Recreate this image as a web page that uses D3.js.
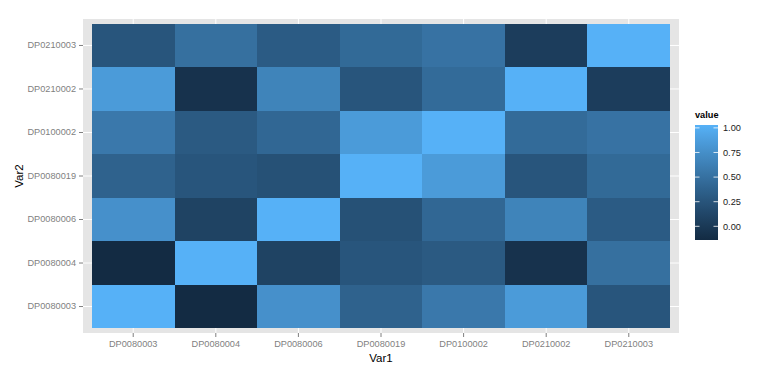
<!DOCTYPE html>
<html>
<head>
<meta charset="utf-8">
<script src="https://cdn.jsdelivr.net/npm/d3@7"></script>
<style>
  body { margin: 0; background: #fff; }
  text { font-family: "Liberation Sans", Arial, sans-serif; }
</style>
</head>
<body>
<div id="chart"></div>
<script>
// variables, same order on both axes
const vars = ["DP0080003", "DP0080004", "DP0080006", "DP0080019", "DP0100002", "DP0210002", "DP0210003"];

// correlation matrix rows (Var2) by columns (Var1)
const rowDP0080003 = [1.00, -0.11, 0.75, 0.38, 0.56, 0.83, 0.27];
const rowDP0080004 = [-0.11, 1.00, 0.11, 0.27, 0.31, -0.04, 0.49];
const rowDP0080006 = [0.75, 0.11, 1.00, 0.23, 0.42, 0.65, 0.32];
const rowDP0080019 = [0.38, 0.27, 0.23, 1.00, 0.83, 0.27, 0.44];
const rowDP0100002 = [0.56, 0.31, 0.42, 0.83, 1.00, 0.45, 0.51];
const rowDP0210002 = [0.83, -0.04, 0.65, 0.27, 0.45, 1.00, 0.06];
const rowDP0210003 = [0.27, 0.49, 0.32, 0.44, 0.51, 0.06, 1.00];

const legendBreaks = [0, 0.25, 0.5, 0.75, 1];

const rows = [rowDP0080003, rowDP0080004, rowDP0080006, rowDP0080019, rowDP0100002, rowDP0210002, rowDP0210003];

// long format like melt()
const data = [];
rows.forEach((r, i) => r.forEach((v, j) => data.push({ Var1: vars[j], Var2: vars[i], value: v })));

const width = 778, height = 376;
const panel = { left: 83, right: 679, top: 19, bottom: 333 };

const svg = d3.select("#chart").append("svg")
  .attr("width", width)
  .attr("height", height);

const x = d3.scaleBand().domain(vars).range([panel.left, panel.right]).paddingInner(0).paddingOuter(0.108);
const y = d3.scaleBand().domain(vars).range([panel.bottom, panel.top]).paddingInner(0).paddingOuter(0.108);

const extent = d3.extent(data, d => d.value);
const color = d3.scaleLinear().domain(extent).range(["#132B43", "#56B1F7"]).interpolate(d3.interpolateLab);

// panel background
svg.append("rect")
  .attr("x", panel.left).attr("y", panel.top)
  .attr("width", panel.right - panel.left).attr("height", panel.bottom - panel.top)
  .attr("fill", "#E5E5E5");

// grid lines
svg.append("g").selectAll("line.vx")
  .data(vars).join("line")
  .attr("x1", d => x(d) + x.bandwidth() / 2).attr("x2", d => x(d) + x.bandwidth() / 2)
  .attr("y1", panel.top).attr("y2", panel.bottom)
  .attr("stroke", "#fff").attr("stroke-width", 1);
svg.append("g").selectAll("line.hy")
  .data(vars).join("line")
  .attr("y1", d => y(d) + y.bandwidth() / 2).attr("y2", d => y(d) + y.bandwidth() / 2)
  .attr("x1", panel.left).attr("x2", panel.right)
  .attr("stroke", "#fff").attr("stroke-width", 1);

// tiles
svg.append("g").selectAll("rect")
  .data(data).join("rect")
  .attr("x", d => x(d.Var1))
  .attr("y", d => y(d.Var2))
  .attr("width", x.bandwidth())
  .attr("height", y.bandwidth())
  .attr("fill", d => color(d.value))
  .attr("shape-rendering", "crispEdges");

// axes
const xAxis = svg.append("g")
  .attr("transform", `translate(0,${panel.bottom})`)
  .call(d3.axisBottom(x).tickSize(4).tickPadding(3));
const yAxis = svg.append("g")
  .attr("transform", `translate(${panel.left},0)`)
  .call(d3.axisLeft(y).tickSize(4).tickPadding(3));
[xAxis, yAxis].forEach(g => {
  g.select(".domain").remove();
  g.selectAll(".tick line").attr("stroke", "#7F7F7F");
  g.selectAll(".tick text")
    .attr("fill", "#7F7F7F")
    .style("font-size", "9.2px")
    .style("font-family", "'Liberation Sans', Arial, sans-serif");
});

// axis titles
svg.append("text")
  .attr("x", (panel.left + panel.right) / 2)
  .attr("y", 362)
  .attr("text-anchor", "middle")
  .style("font-size", "11.5px")
  .text("Var1");
svg.append("text")
  .attr("transform", `translate(23,${(panel.top + panel.bottom) / 2}) rotate(-90)`)
  .attr("text-anchor", "middle")
  .style("font-size", "11.5px")
  .text("Var2");

// legend colourbar
const bar = { x: 695, top: 125, bottom: 240, w: 23 };
const half = (bar.bottom - bar.top) / 40;
const ly = d3.scaleLinear().domain(extent).range([bar.bottom - half, bar.top + half]);

const grad = svg.append("defs").append("linearGradient")
  .attr("id", "bar-grad")
  .attr("x1", 0).attr("x2", 0).attr("y1", 1).attr("y2", 0);
d3.range(0, 1.0001, 0.05).forEach(t => {
  grad.append("stop")
    .attr("offset", t)
    .attr("stop-color", color(extent[0] + t * (extent[1] - extent[0])));
});

svg.append("rect")
  .attr("x", bar.x).attr("y", bar.top)
  .attr("width", bar.w).attr("height", bar.bottom - bar.top)
  .attr("fill", "url(#bar-grad)");

const lg = svg.append("g");
lg.selectAll("line.l")
  .data(legendBreaks).join("line")
  .attr("x1", bar.x).attr("x2", bar.x + 4.5)
  .attr("y1", d => ly(d)).attr("y2", d => ly(d))
  .attr("stroke", "#fff").attr("stroke-opacity", 0.8);
lg.selectAll("line.r")
  .data(legendBreaks).join("line")
  .attr("x1", bar.x + bar.w - 4.5).attr("x2", bar.x + bar.w)
  .attr("y1", d => ly(d)).attr("y2", d => ly(d))
  .attr("stroke", "#fff").attr("stroke-opacity", 0.8);
lg.selectAll("text")
  .data(legendBreaks).join("text")
  .attr("x", bar.x + bar.w + 5)
  .attr("y", d => ly(d))
  .attr("dy", "0.35em")
  .style("font-size", "9.2px")
  .attr("fill", "#1a1a1a")
  .text(d => d3.format(".2f")(d));

svg.append("text")
  .attr("x", bar.x)
  .attr("y", 118)
  .style("font-size", "9.2px")
  .style("font-weight", "bold")
  .text("value");
</script>
</body>
</html>
